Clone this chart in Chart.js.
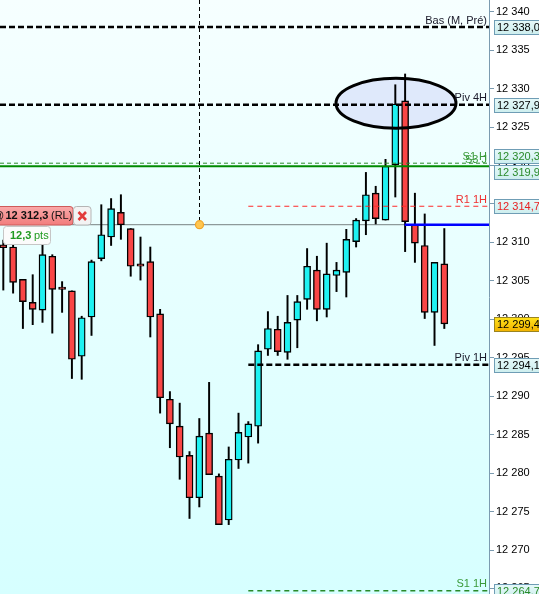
<!DOCTYPE html>
<html><head><meta charset="utf-8">
<script src="https://cdn.jsdelivr.net/npm/chart.js@4.4.1/dist/chart.umd.min.js"></script>
<style>html,body{margin:0;padding:0;background:#fff;overflow:hidden}</style>
</head><body>
<canvas id="c" width="539" height="594"></canvas>
<script>
// ---- data ----
const openP  = [12309.7,12309.4,12305.2,12302.2,12301.2,12308.2,12304.2,12303.7,12295.2,12300.3,
                12307.9,12310.7,12313.9,12311.8,12307.2,12307.5,12300.7,12289.6,12286.1,12282.3,
                12276.8,12285.2,12279.6,12273.9,12281.7,12284.7,12286.1,12296.1,12298.7,12295.7,
                12299.9,12302.6,12306.4,12301.3,12305.7,12306.1,12310.1,12312.8,12316.4,12312.9,
                12320.1,12328.4,12312.3,12309.6,12300.9,12307.2];
const highP  = [12310.3,12309.8,12305.2,12305.8,12309.7,12308.4,12304.9,12303.7,12300.4,12307.7,
                12314.9,12315.7,12316.2,12311.8,12310.7,12309.4,12301.3,12290.6,12289.1,12282.8,
                12287.1,12291.8,12279.9,12283.4,12287.8,12286.7,12296.7,12301.0,12300.4,12303.1,
                12303.1,12309.2,12308.2,12309.9,12307.4,12311.7,12313.1,12319.1,12317.3,12320.8,
                12330.5,12331.9,12316.4,12313.7,12307.4,12311.8];
const lowP   = [12303.8,12303.4,12298.8,12299.3,12299.6,12298.2,12300.9,12292.3,12292.2,12297.9,
                12307.6,12309.6,12310.4,12305.6,12305.1,12297.7,12287.8,12283.3,12279.2,12274.1,
                12275.6,12279.8,12273.3,12273.3,12280.6,12281.3,12283.9,12295.3,12295.3,12294.8,
                12296.3,12301.3,12299.8,12300.3,12303.6,12302.9,12309.4,12311.0,12312.4,12312.9,
                12315.9,12308.8,12307.4,12300.1,12296.6,12298.8];
const closeP = [12309.3,12304.8,12302.3,12301.3,12308.4,12303.9,12303.9,12294.8,12300.2,12307.5,
                12311.0,12314.4,12312.3,12306.9,12306.9,12300.3,12289.8,12286.4,12282.1,12276.8,
                12284.8,12279.8,12273.3,12281.8,12285.3,12286.4,12295.9,12298.8,12295.8,12299.6,
                12302.3,12306.9,12301.3,12305.9,12306.4,12310.4,12312.9,12316.2,12313.1,12319.9,
                12328.0,12312.7,12309.9,12300.9,12307.4,12299.4];
const tickValues = [12265,12270,12275,12280,12285,12290,12295,12300,12305,12310,12315,12320,12325,12330,12335,12340];
const levelLabels = ['Bas (M, Pré)','Piv 4H','S1 H','S3 J','R1 1H','Piv 1H','S1 1H'];
const levelValues = [12338.0,12327.9,12320.3,12319.9,12314.7,12294.1,12264.7];
const lastPrice = 12299.4;
const refPrice = 12312.3;
const refPts = 12.3;

// ---- styling / layout ----
const FONT = "'Liberation Sans', Arial, sans-serif";
const levelStyle = [
  {c:'#000',w:2.5,d:[6,3],from:null,txt:'#1a1a2a',box:'#000'},
  {c:'#000',w:2.5,d:[6,3],from:null,txt:'#1a1a2a',box:'#000'},
  {c:'#2a8a2a',w:1,d:[4,3],from:null,txt:'#3a9a3a',box:'#2a8a2a',shift:-7.5},
  {c:'#008a00',w:2,d:[],from:null,txt:'#3a9a3a',box:'#2a8a2a',shift:5.7},
  {c:'#ff2a2a',w:1.2,d:[5,4],from:25,txt:'#ee3030',box:'#e82020'},
  {c:'#000',w:2.5,d:[6,3],from:25,txt:'#1a1a2a',box:'#000'},
  {c:'#2a8a2a',w:1.5,d:[5,4],from:25,txt:'#3a9a3a',box:'#2a8a2a'}
];
function fmt(v, d) {
  const s = v.toFixed(d);
  let [ip, dp] = s.split('.');
  ip = ip.replace(/\B(?=(\d{3})+(?!\d))/g, ' ');
  return dp ? ip + ',' + dp : ip;
}
const idx = openP.map((_, i) => i);
const up = idx.map(i => closeP[i] >= openP[i]);

const deco = {
  id: 'deco',
  beforeDraw(chart) {
    const {ctx, chartArea: a} = chart;
    ctx.save();
    ctx.fillStyle = '#fff'; ctx.fillRect(0, 0, chart.width, chart.height);
    const g = ctx.createLinearGradient(0, a.top, 0, a.bottom);
    g.addColorStop(0, '#f6ffff'); g.addColorStop(1, '#d6ffff');
    ctx.fillStyle = g; ctx.fillRect(a.left, a.top, a.right - a.left, a.bottom - a.top);
    ctx.restore();
  },
  beforeDatasetsDraw(chart) {
    const {ctx, chartArea: a, scales: {x, y}} = chart;
    ctx.save();
    ctx.beginPath(); ctx.rect(a.left, a.top, a.right - a.left, a.bottom - a.top); ctx.clip();
    const cx = x.getPixelForValue(40.07), cy = y.getPixelForValue(12328.1);
    const rx = x.getPixelForValue(40.07 + 6.12) - cx, ry = cy - y.getPixelForValue(12328.1 + 3.25);
    ctx.beginPath(); ctx.ellipse(cx, cy, rx, ry, 0, 0, Math.PI * 2);
    ctx.fillStyle = '#dfe9fb'; ctx.fill();
    const ry0 = y.getPixelForValue(refPrice);
    ctx.strokeStyle = '#8e9a9a'; ctx.lineWidth = 1.2;
    ctx.beginPath(); ctx.moveTo(a.left, ry0); ctx.lineTo(x.getPixelForValue(41), ry0); ctx.stroke();
    ctx.restore();
  },
  afterDatasetsDraw(chart) {
    const {ctx, chartArea: a, scales: {x, y}} = chart;
    ctx.save();
    ctx.beginPath(); ctx.rect(a.left, a.top, a.right - a.left, a.bottom - a.top); ctx.clip();
    levelValues.forEach((v, k) => {
      const s = levelStyle[k];
      const py = y.getPixelForValue(v);
      const x0 = s.from === null ? a.left : x.getPixelForValue(s.from);
      ctx.strokeStyle = s.c; ctx.lineWidth = s.w; ctx.setLineDash(s.d);
      ctx.beginPath(); ctx.moveTo(x0, py); ctx.lineTo(a.right, py); ctx.stroke();
    });
    ctx.setLineDash([]);
    const ry0 = y.getPixelForValue(refPrice);
    ctx.strokeStyle = '#0000ff'; ctx.lineWidth = 2.5;
    ctx.beginPath(); ctx.moveTo(x.getPixelForValue(41) - 0.5, ry0); ctx.lineTo(a.right, ry0); ctx.stroke();
    const vx = Math.round(x.getPixelForValue(20)) + 0.5;
    ctx.strokeStyle = '#000'; ctx.lineWidth = 1; ctx.setLineDash([4, 3]);
    ctx.beginPath(); ctx.moveTo(vx, a.top); ctx.lineTo(vx, ry0); ctx.stroke();
    ctx.setLineDash([]);
    ctx.beginPath(); ctx.arc(vx, ry0, 4, 0, Math.PI * 2);
    ctx.fillStyle = '#ffc650'; ctx.fill(); ctx.strokeStyle = '#f0a428'; ctx.lineWidth = 1.2; ctx.stroke();
    const cx = x.getPixelForValue(40.07), cy = y.getPixelForValue(12328.1);
    const rx = x.getPixelForValue(40.07 + 6.12) - cx, ery = cy - y.getPixelForValue(12328.1 + 3.25);
    ctx.beginPath(); ctx.ellipse(cx, cy, rx, ery, 0, 0, Math.PI * 2);
    ctx.strokeStyle = '#000'; ctx.lineWidth = 3; ctx.stroke();
    ctx.font = '11px ' + FONT; ctx.textAlign = 'right'; ctx.textBaseline = 'alphabetic';
    levelValues.forEach((v, k) => {
      const py = y.getPixelForValue(v);
      ctx.fillStyle = levelStyle[k].txt;
      ctx.fillText(levelLabels[k], 487, py - 3.5);
    });
    ctx.restore();
  },
  afterDraw(chart) {
    const {ctx, scales: {y}} = chart;
    ctx.save();
    function box(yc, text, f1, f2, border, color) {
      const h = 14, bx = 494.5, w = 60;
      const y0 = Math.round(yc - h / 2) + 0.5;
      const g = ctx.createLinearGradient(0, y0, 0, y0 + h);
      g.addColorStop(0, f1); g.addColorStop(1, f2);
      ctx.fillStyle = g; ctx.fillRect(bx, y0, w, h);
      ctx.strokeStyle = border; ctx.lineWidth = 1; ctx.strokeRect(bx, y0, w, h);
      ctx.fillStyle = color; ctx.font = '11px ' + FONT; ctx.textAlign = 'left'; ctx.textBaseline = 'middle';
      ctx.fillText(text, bx + 2.5, y0 + h / 2 + 0.5);
    }
    levelValues.forEach((v, k) => {
      const s = levelStyle[k];
      box(y.getPixelForValue(v) + (s.shift || 0), fmt(v, 1), '#e6f9f9', '#cdeeee', '#6f9db5', s.box);
    });
    box(y.getPixelForValue(lastPrice), fmt(lastPrice, 1), '#ffe21a', '#f2b200', '#9a8420', '#000');

    const t0 = 206.5, t1 = 225;
    const g = ctx.createLinearGradient(0, t0, 0, t1);
    g.addColorStop(0, '#f9a9a9'); g.addColorStop(1, '#f27c7c');
    ctx.fillStyle = g;
    ctx.beginPath(); ctx.roundRect(-6, t0, 79, t1 - t0, 3); ctx.fill();
    ctx.strokeStyle = '#cf5a5a'; ctx.lineWidth = 1; ctx.stroke();
    ctx.textBaseline = 'middle'; ctx.textAlign = 'left';
    ctx.fillStyle = '#111';
    ctx.font = '11px ' + FONT; ctx.fillText('@', -7, 216);
    ctx.font = 'bold 11px ' + FONT; ctx.fillText(fmt(refPrice, 1), 5.5, 216);
    ctx.font = '11px ' + FONT; ctx.fillText('(RL)', 51, 216);
    ctx.fillStyle = '#f3f3f3';
    ctx.beginPath(); ctx.roundRect(73.5, t0, 17.5, t1 - t0, 3); ctx.fill();
    ctx.strokeStyle = '#b5b5b5'; ctx.stroke();
    ctx.strokeStyle = '#e23a3a'; ctx.lineWidth = 2.6; ctx.lineCap = 'butt';
    ctx.beginPath(); ctx.moveTo(78.5, 212); ctx.lineTo(86, 220); ctx.moveTo(86, 212); ctx.lineTo(78.5, 220); ctx.stroke();
    ctx.fillStyle = '#fbfbfb';
    ctx.beginPath(); ctx.roundRect(3.5, 226.5, 47, 18, 3); ctx.fill();
    ctx.strokeStyle = '#c6c6c6'; ctx.lineWidth = 1; ctx.stroke();
    ctx.fillStyle = '#1f9a1f';
    ctx.font = 'bold 11px ' + FONT; ctx.fillText(fmt(refPts, 1), 10, 235.5);
    ctx.font = '11px ' + FONT; ctx.fillText('pts', 34, 235.5);
    ctx.restore();
  }
};

new Chart(document.getElementById('c'), {
  type: 'bar',
  data: {
    datasets: [
      {
        label: 'body',
        data: idx.map(i => ({x: i, y: [openP[i], closeP[i]]})),
        backgroundColor: idx.map(i => up[i] ? '#1ff2f2' : '#f94646'),
        borderColor: '#000', borderWidth: 1.4, borderSkipped: false,
        barThickness: 7, grouped: false, order: 0
      },
      {
        label: 'wick',
        data: idx.map(i => ({x: i, y: [lowP[i], highP[i]]})),
        backgroundColor: '#000', borderWidth: 0,
        barThickness: 1.3, grouped: false, order: 1
      }
    ]
  },
  options: {
    responsive: false, animation: false, devicePixelRatio: 1,
    layout: {padding: 0},
    plugins: {legend: {display: false}, tooltip: {enabled: false}},
    scales: {
      x: {type: 'linear', min: -0.337, max: 49.56, display: false, offset: false},
      y: {
        type: 'linear', position: 'right', min: 12264.28, max: 12341.52,
        afterBuildTicks(s) { s.ticks = tickValues.map(v => ({value: v})); },
        afterFit(s) { s.width = 50; s.paddingTop = 0; s.paddingBottom = 0; },
        ticks: {callback: v => fmt(v, 0), color: '#000', padding: 2, font: {family: FONT, size: 11}},
        grid: {drawOnChartArea: false, tickLength: 5, color: '#7b9bb0'},
        border: {color: '#7b9bb0', width: 1}
      }
    }
  },
  plugins: [deco]
});
</script>
</body></html>
